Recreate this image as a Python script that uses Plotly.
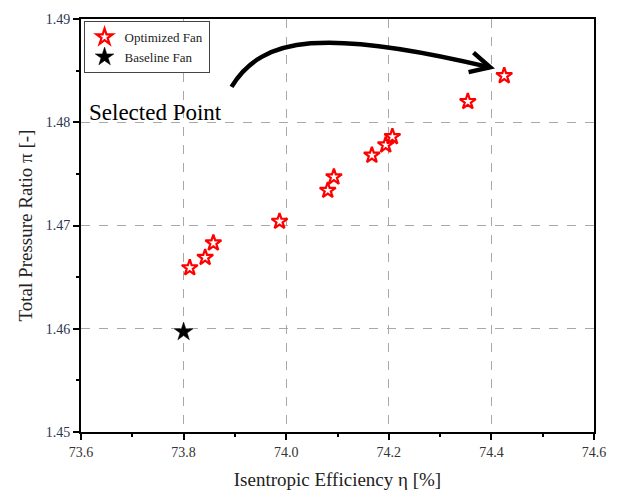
import plotly.graph_objects as go

# Optimized fan designs: isentropic efficiency [%] and total pressure ratio [-]
opt_eta = [73.812, 73.842, 73.858, 73.987, 74.081, 74.093, 74.167, 74.194, 74.207, 74.354, 74.425]
opt_pi = [1.4659, 1.4669, 1.4683, 1.4704, 1.4734, 1.4747, 1.4768, 1.4778, 1.4786, 1.4820, 1.4845]

# Baseline fan
base_eta = [73.80]
base_pi = [1.4597]

x_ticks = [73.6, 73.8, 74.0, 74.2, 74.4, 74.6]
y_ticks = [1.45, 1.46, 1.47, 1.48, 1.49]

SERIF = "Liberation Serif"

fig = go.Figure()
fig.add_trace(go.Scatter(
    x=opt_eta, y=opt_pi, mode="markers", name="Optimized Fan",
    marker=dict(symbol="star-open", size=12, color="#ff0000",
                line=dict(width=2.2, color="#ff0000")),
))
fig.add_trace(go.Scatter(
    x=base_eta, y=base_pi, mode="markers", name="Baseline Fan",
    marker=dict(symbol="star", size=14, color="#000000",
                line=dict(width=0.5, color="#000000")),
))

# Curved arrow pointing at the selected design
fig.add_shape(type="path", xref="x", yref="y",
              path="M 73.8934 1.48343 C 73.9529 1.48835, 74.0775 1.48911, 74.3976 1.48532",
              line=dict(color="black", width=4.5))
fig.add_shape(type="path", xref="x", yref="y",
              path="M 74.3651 1.48674 L 74.3976 1.48532 L 74.3555 1.48485",
              line=dict(color="black", width=4.5))

fig.add_annotation(x=73.612, y=1.48095, xref="x", yref="y", text="Selected Point",
                   showarrow=False, xanchor="left", yanchor="middle",
                   font=dict(family=SERIF, size=23, color="black"))

axis_common = dict(
    showline=True, linewidth=2, linecolor="black", mirror=True,
    ticks="outside", ticklen=6, tickwidth=2, tickcolor="black",
    showgrid=True, gridcolor="#a8a8a8", griddash="dash", gridwidth=1.2,
    zeroline=False,
)

fig.update_layout(
    width=618, height=499,
    margin=dict(l=81, r=15, t=12, b=64),
    paper_bgcolor="white", plot_bgcolor="white",
    xaxis=dict(
        range=[73.6, 74.6], tickvals=x_ticks, ticktext=[f"{v:.1f}" for v in x_ticks],
        minor=dict(dtick=0.1, ticks="outside", ticklen=3, tickwidth=2, tickcolor="black",
                   showgrid=False),
        tickfont=dict(family=SERIF, size=14, color="#333333"),
        title=dict(text="Isentropic Efficiency η [%]",
                   font=dict(family=SERIF, size=19, color="#222222"), standoff=14),
        **axis_common,
    ),
    yaxis=dict(
        range=[1.45, 1.49], tickvals=y_ticks, ticktext=[f"{v:.2f}" for v in y_ticks],
        minor=dict(dtick=0.005, ticks="outside", ticklen=3, tickwidth=2, tickcolor="black",
                   showgrid=False),
        tickfont=dict(family=SERIF, size=14, color="#2a3550"),
        title=dict(text="Total Pressure Ratio π [-]",
                   font=dict(family=SERIF, size=19, color="#222222"), standoff=8),
        **axis_common,
    ),
    legend=dict(
        x=0.005, y=0.995, xanchor="left", yanchor="top",
        bgcolor="white", bordercolor="#444444", borderwidth=1,
        font=dict(family=SERIF, size=13, color="#222222"),
        itemsizing="trace", tracegroupgap=0, itemwidth=30,
    ),
    showlegend=True,
)

fig.write_html("out.html")
